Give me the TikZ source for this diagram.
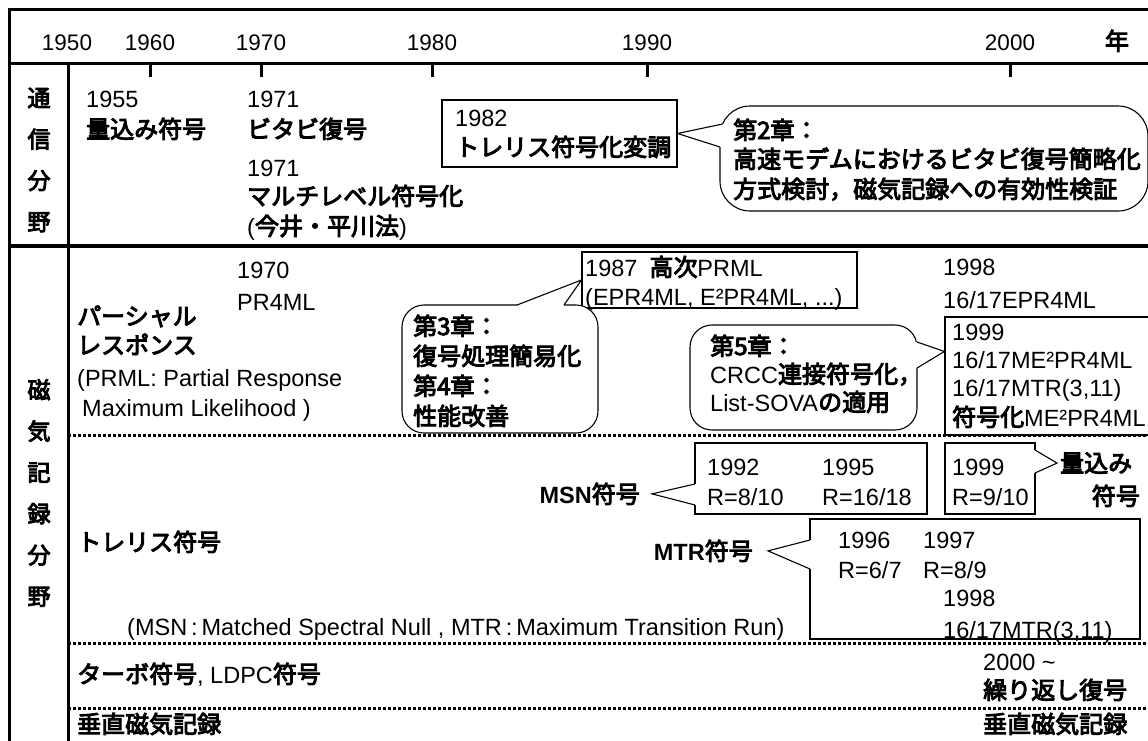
\documentclass[tikz,border=0pt]{standalone}
\usepackage{fontspec}
\setmainfont{Liberation Sans}
\newfontfamily\jpfont{Noto Sans CJK JP}[FakeBold=4]
\usetikzlibrary{calc}
\newcommand\J[1]{{\jpfont\fontsize{24}{28}\selectfont #1}}
\tikzset{
  t/.style={anchor=base west, inner sep=0pt, yshift=-8pt, font=\fontsize{23.5}{26}\selectfont},
  te/.style={t, anchor=base east},
  yr/.style={anchor=base, inner sep=0pt, yshift=-8pt, font=\fontsize{22.5}{26}\selectfont},
  frameline/.style={line width=3pt},
  tickline/.style={line width=3pt},
  dotline/.style={line width=3pt, dash pattern=on 3pt off 2pt},
  boxnode/.style={draw, line width=1.1pt, inner sep=0pt, fill=white},
  bubnode/.style={draw, line width=1.1pt, inner sep=0pt, fill=white, rounded corners=24pt},
  tailline/.style={line width=1.1pt},
  vlabel/.style={inner sep=0pt, align=center, font=\jpfont\fontsize{23}{41.3}\selectfont},
}
\begin{document}
\begin{tikzpicture}[x=1pt,y=-1pt]
\useasboundingbox (0,0) rectangle (1148,740);
\clip (0,0) rectangle (1148,740);
\fill[white] (0,0) rectangle (1148,740);

% frame and grid
\draw[frameline] (1170,9) -- (9,9) -- (9,760);
\draw[frameline] (9,63) -- (1170,63);
\draw[frameline] (68,63) -- (68,760);
\draw[line width=4pt] (9,246) -- (1170,246);
\foreach \x in {150,261,432,647,1010} \draw[tickline] (\x,63) -- (\x,77);
\draw[dotline] (68,435) -- (1170,435);
\draw[dotline] (68,643) -- (1170,643);
\draw[dotline] (68,708) -- (1170,708);

% years
\node[yr] (y1950) at (67,42) {1950};
\node[yr] (y1960) at (150,42) {1960};
\node[yr] (y1970) at (261,42) {1970};
\node[yr] (y1980) at (432,42) {1980};
\node[yr] (y1990) at (647,42) {1990};
\node[yr] (y2000) at (1010,42) {2000};
\node[yr] (ynen) at (1117,42) {\J{年}};

% side labels
\node[vlabel] (tsushin) at (39,160) {通\\信\\分\\野};
\node[vlabel] (jiki) at (39,493) {磁\\気\\記\\録\\分\\野};

% ---------- communication field ----------
\node[t] (c55a) at (86,99) {1955};
\node[t] (c55b) at (86,130) {\J{量込み符号}};
\node[t] (c71a) at (247,99) {1971};
\node[t] (c71b) at (247,130) {\J{ビタビ復号}};
\node[t] (c71c) at (247,168) {1971};
\node[t] (c71d) at (247,197) {\J{マルチレベル符号化}};
\node[t] (c71e) at (247,227) {(\J{今井・平川法})};

\node[boxnode, minimum width=235pt, minimum height=67pt] (b82) at (559.5,133.5) {};
\node[t] (c82a) at (455,118) {1982};
\node[t] (c82b) at (455,148) {\J{トレリス符号化変調}};

\node[bubnode, rounded corners=30pt, minimum width=428pt, minimum height=105pt] (bub2) at (934,158.5) {};
\coordinate (bub2a) at (722.5,124);
\coordinate (bub2b) at (720,147);
\fill[white] (b82.east) -- (bub2a) -- ($(bub2a)+(5,0)$) -- ($(bub2b)+(5,0)$) -- (bub2b) -- cycle;
\draw[tailline] (bub2a) -- (b82.east) -- (bub2b);
\node[t] (ch2a) at (733,131) {\J{第2章：}};
\node[t] (ch2b) at (733,160) {\J{高速モデムにおけるビタビ復号簡略化}};
\node[t] (ch2c) at (733,190) {\J{方式検討，磁気記録への有効性検証}};

% ---------- magnetic recording: PRML ----------
\node[t] (p70a) at (237,270) {1970};
\node[t] (p70b) at (237,302) {PR4ML};
\node[t] (prA) at (77,317) {\J{パーシャル}};
\node[t] (prB) at (77,346) {\J{レスポンス}};
\node[t] (prC) at (77,378) {(PRML: Partial Response};
\node[t] (prD) at (82,408) {Maximum Likelihood )};

\node[boxnode, minimum width=275pt, minimum height=56pt] (b87) at (719.5,280) {};
\node[t] (p87a) at (585,268) {1987\hspace{12pt}\J{高次}PRML};
\node[t] (p87b) at (585,297) {(EPR4ML, E²PR4ML, ...)};

\node[t] (p98a) at (943,267) {1998};
\node[t] (p98b) at (943,300) {16/17EPR4ML};

\node[boxnode, minimum width=230pt, minimum height=118pt] (b99big) at (1060,376) {};
\node[t] (p99a) at (952,332) {1999};
\node[t] (p99b) at (952,360) {16/17ME²PR4ML};
\node[t] (p99c) at (952,388) {16/17MTR(3,11)};
\node[t] (p99d) at (952,418) {\J{符号化}ME²PR4ML};

\node[bubnode, rounded corners=22pt, minimum width=196pt, minimum height=128pt] (bub3) at (500,369) {};
\coordinate (bub3a) at (517,305);
\coordinate (bub3b) at (564,305);
\fill[white] (b87.west) -- (bub3a) -- ($(bub3a)+(0,5)$) -- ($(bub3b)+(0,5)$) -- (bub3b) -- cycle;
\draw[tailline] (bub3a) -- (b87.west) -- (bub3b);
\node[t] (ch3a) at (413,327) {\J{第3章：}};
\node[t] (ch3b) at (413,357) {\J{復号処理簡易化}};
\node[t] (ch3c) at (413,387) {\J{第4章：}};
\node[t] (ch3d) at (413,417) {\J{性能改善}};

\node[bubnode, rounded corners=22pt, minimum width=227pt, minimum height=105pt] (bub5) at (803.5,377.5) {};
\coordinate (bub5a) at (917,342);
\coordinate (bub5b) at (917,368);
\coordinate (bub5tip) at ($(b99big.north west)+(0,35)$);
\fill[white] (bub5tip) -- (bub5a) -- ($(bub5a)+(-5,0)$) -- ($(bub5b)+(-5,0)$) -- (bub5b) -- cycle;
\draw[tailline] (bub5a) -- (bub5tip) -- (bub5b);
\node[t] (ch5a) at (710,347) {\J{第5章：}};
\node[t] (ch5b) at (710,375) {CRCC\J{連接符号化，}};
\node[t] (ch5c) at (710,403) {List-SOVA\J{の適用}};

% ---------- magnetic recording: trellis codes ----------
\node[t] (trel) at (77,543) {\J{トレリス符号}};

\node[te] (msnlab) at (640,495) {\textbf{MSN}\J{符号}};
\node[boxnode, minimum width=232pt, minimum height=71pt] (bmsn) at (811,478.5) {};
\coordinate (bmsna) at (695,484);
\coordinate (bmsnb) at (695,505);
\coordinate (bmsntip) at ($(msnlab.east)+(12,0)$);
\fill[white] (bmsntip) -- (bmsna) -- ($(bmsna)+(5,0)$) -- ($(bmsnb)+(5,0)$) -- (bmsnb) -- cycle;
\draw[tailline] (bmsna) -- (bmsntip) -- (bmsnb);
\node[t] (m92a) at (707,467) {1992};
\node[t] (m92b) at (707,497) {R=8/10};
\node[t] (m95a) at (822,467) {1995};
\node[t] (m95b) at (822,497) {R=16/18};

\node[t] (ryou) at (1060,464) {\J{量込み}};
\node[te] (ryoub) at (1140,497) {\J{符号}};
\node[boxnode, minimum width=90pt, minimum height=71pt] (b99s) at (990,478.5) {};
\coordinate (b99sa) at (1035,450);
\coordinate (b99sb) at (1035,473);
\coordinate (b99stip) at ($(ryou.west)+(-3,0)$);
\fill[white] (b99stip) -- (b99sa) -- ($(b99sa)+(-5,0)$) -- ($(b99sb)+(-5,0)$) -- (b99sb) -- cycle;
\draw[tailline] (b99sa) -- (b99stip) -- (b99sb);
\node[t] (s99a) at (952,467) {1999};
\node[t] (s99b) at (952,497) {R=9/10};

\node[te] (mtrlab) at (753,552) {\textbf{MTR}\J{符号}};
\node[boxnode, minimum width=330pt, minimum height=120pt] (bmtr) at (975,579) {};
\coordinate (bmtra) at (810,540);
\coordinate (bmtrb) at (810,569);
\coordinate (bmtrtip) at ($(mtrlab.east)+(15,0)$);
\fill[white] (bmtrtip) -- (bmtra) -- ($(bmtra)+(5,0)$) -- ($(bmtrb)+(5,0)$) -- (bmtrb) -- cycle;
\draw[tailline] (bmtra) -- (bmtrtip) -- (bmtrb);
\node[t] (t96a) at (838,540) {1996};
\node[t] (t96b) at (838,570) {R=6/7};
\node[t] (t97a) at (923,540) {1997};
\node[t] (t97b) at (923,570) {R=8/9};
\node[t] (t98a) at (943,598) {1998};
\node[t] (t98b) at (943,630) {16/17MTR(3,11)};

\node[t] (abbr) at (127,627) {(MSN\,:\,Matched Spectral Null , MTR\,:\,Maximum Transition Run)};

% ---------- turbo / perpendicular ----------
\node[t] (turbo) at (77,675) {\J{ターボ符号}, LDPC\J{符号}};
\node[t] (it2000a) at (983,662) {2000 \textasciitilde};
\node[t] (it2000b) at (983,691) {\J{繰り返し復号}};
\node[t] (perpA) at (77,725) {\J{垂直磁気記録}};
\node[t] (perpB) at (983,725) {\J{垂直磁気記録}};
\end{tikzpicture}
\end{document}
